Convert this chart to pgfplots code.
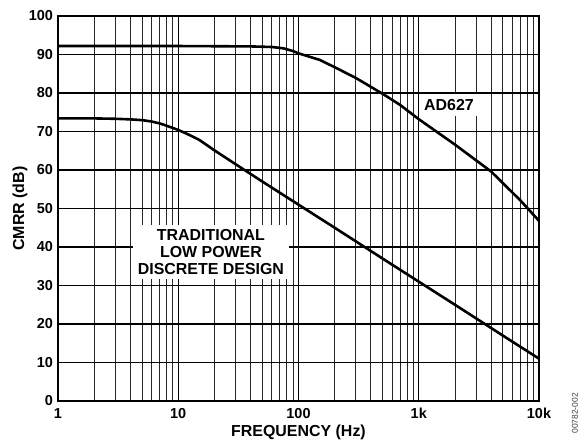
\documentclass[border=0pt]{standalone}
\usepackage{fontspec}
\setmainfont{Liberation Sans}
\usepackage{pgfplots}
\pgfplotsset{compat=1.18}

\begin{document}
\begin{tikzpicture}
\begin{axis}[
  scale only axis,
  width=481bp, height=385bp,
  xmode=log,
  xmin=1, xmax=10000, ymin=0, ymax=100,
  xtick={1,10,100,1000,10000},
  xticklabels={1,10,100,1k,10k},
  minor xtick={2,3,4,5,6,7,8,9,20,30,40,50,60,70,80,90,200,300,400,500,600,700,800,900,2000,3000,4000,5000,6000,7000,8000,9000},
  ytick={0,10,...,100},
  grid=both,
  major grid style={black, line width=1.2bp},
  minor grid style={black!85, line width=0.85bp},
  major tick length=0pt, minor tick length=0pt,
  axis line style={line width=1.8bp},
  /pgf/number format/assume math mode=true,
  ticklabel style={font=\fontsize{14.5}{16}\selectfont\bfseries},
  xticklabel style={yshift=-4bp},
  yticklabel style={xshift=-1.5bp},
  xlabel={FREQUENCY (Hz)},
  ylabel={CMRR (dB)},
  label style={font=\fontsize{16}{18}\selectfont\bfseries},
  xlabel style={at={(axis description cs:0.5,-0.082)}, anchor=center},
  ylabel style={at={(axis description cs:-0.079,0.5)}, anchor=center},
]
% AD627
\addplot[black, line width=2.6bp, line join=round] coordinates {
  (1,92.2) (10,92.2) (40,92.1) (60,91.95) (75,91.6) (90,90.9) (100,90.3)
  (150,88.6) (200,86.7) (300,83.9) (500,79.8) (700,76.9) (1000,73.2)
  (2000,66.6) (4000,59.6) (7000,52.1) (10000,46.8)
};
% traditional low power discrete design
\addplot[black, line width=2.6bp, line join=round] coordinates {
  (1,73.4) (2,73.4) (3,73.3) (4,73.15) (5,72.95) (6,72.6) (7,72.1)
  (8,71.5) (10,70.4) (12,69.3) (15,67.8) (20,65.1) (30,61.5) (50,57.0)
  (100,51.0) (200,45.0) (500,37.0) (1000,31.0) (2000,25.0) (5000,17.0)
  (10000,11.0)
};
\node[fill=white, inner xsep=5bp, inner ysep=5.5bp,
  font=\fontsize{16}{18}\selectfont\bfseries] at (axis cs:1785,76.9) {AD627};
\node[fill=white, inner xsep=5bp, inner ysep=4.5bp, align=center,
  font=\fontsize{16}{17}\selectfont\bfseries] at (axis cs:18.7,38.8)
  {TRADITIONAL\\LOW POWER\\DISCRETE DESIGN};
\end{axis}
\node[rotate=90, anchor=east, inner sep=0pt, text=black!75,
  font=\fontsize{8.5}{9}\selectfont] at (517bp,8bp) {00782-002};
\pgfresetboundingbox
\useasboundingbox (-58bp,-42bp) rectangle (527bp,401bp);
\end{tikzpicture}
\end{document}
